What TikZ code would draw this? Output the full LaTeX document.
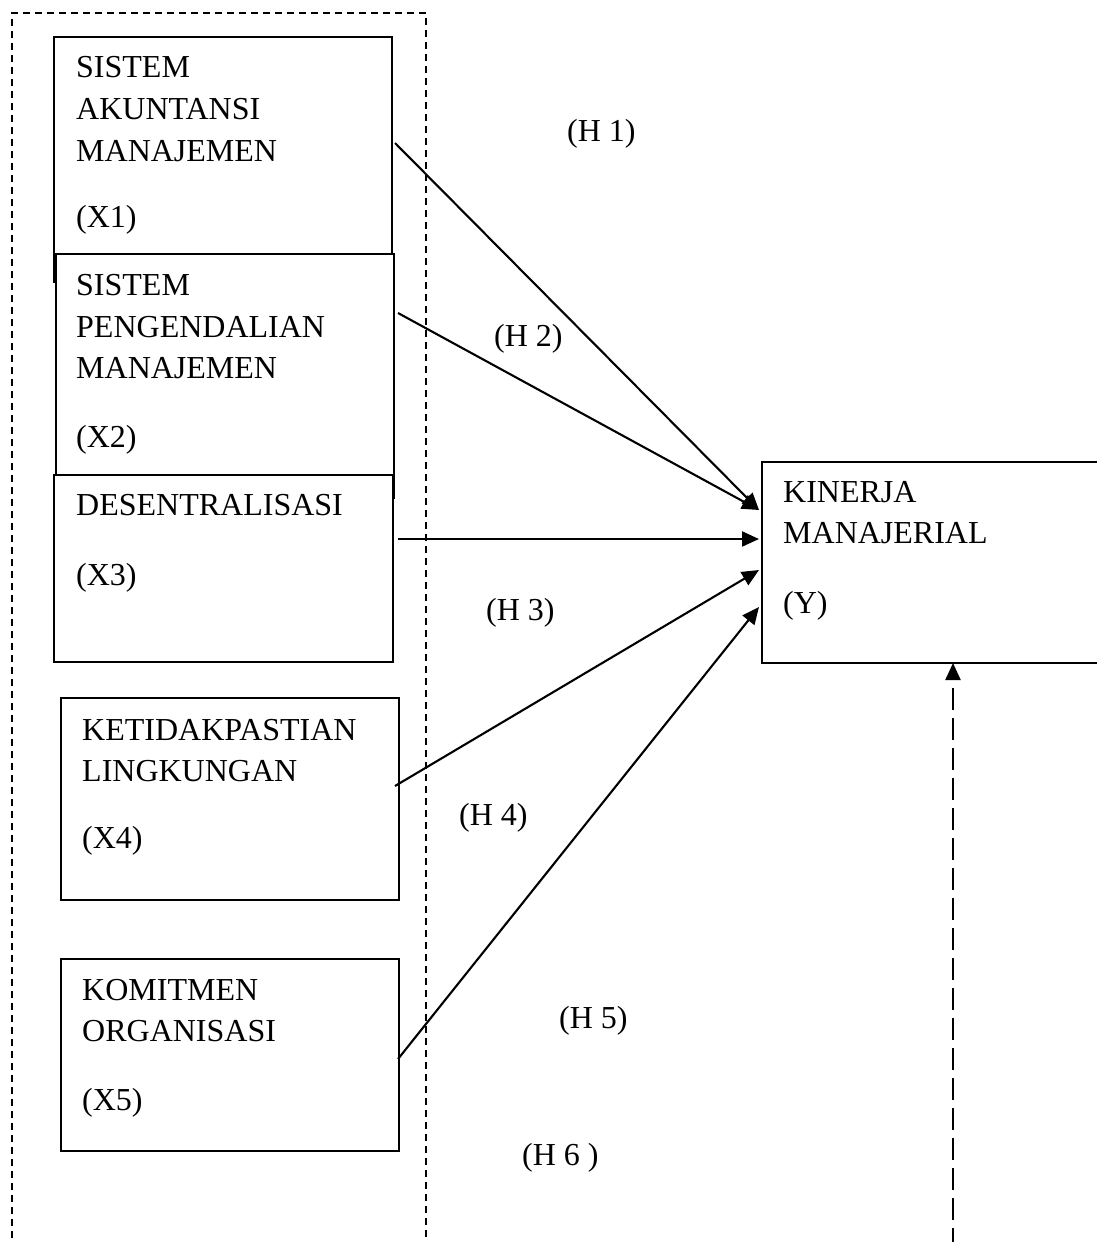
\documentclass[tikz,border=0pt]{standalone}
\usepackage{fontspec}
\setmainfont{Liberation Serif}
\usetikzlibrary{arrows.meta}
\begin{document}
\begin{tikzpicture}[x=1pt,y=-1pt,
  box/.style={draw,line width=1.9pt,fill=white,inner sep=0pt,outer sep=0pt,anchor=north west},
  txt/.style={inner sep=0pt,anchor=base west,font=\fontsize{32}{40}\selectfont},
  conn/.style={line width=2.1pt,-{Triangle[length=17pt,width=15pt]}},
  group/.style={line width=1.2pt,dash pattern=on 7pt off 5pt}]
\clip (0,0) rectangle (1097,1242);
\fill[white] (0,0) rectangle (1097,1242);
% dashed group frame
\draw[group] (12,1250) -- (12,13) -- (426,13) -- (426,1250);
% boxes
\node[box,minimum width=338pt,minimum height=245pt] (x1) at (54,37) {};
\node[box,minimum width=338pt,minimum height=244pt] (x2) at (56,254) {};
\node[box,minimum width=339pt,minimum height=187pt] (x3) at (54,475) {};
\node[box,minimum width=338pt,minimum height=202pt] (x4) at (61,698) {};
\node[box,minimum width=338pt,minimum height=192pt] (x5) at (61,959) {};
\node[box,minimum width=350pt,minimum height=201pt] (y) at (762,462) {};
% box texts
\node[txt] (t1a) at (76,77) {SISTEM};
\node[txt] (t1b) at (76,119) {AKUNTANSI};
\node[txt] (t1c) at (76,161) {MANAJEMEN};
\node[txt] (t1d) at (76,227) {(X1)};
\node[txt] (t2a) at (76,295) {SISTEM};
\node[txt] (t2b) at (76,337) {PENGENDALIAN};
\node[txt] (t2c) at (76,378) {MANAJEMEN};
\node[txt] (t2d) at (76,447) {(X2)};
\node[txt] (t3a) at (76,515) {DESENTRALISASI};
\node[txt] (t3b) at (76,585) {(X3)};
\node[txt] (t4a) at (82,740) {KETIDAKPASTIAN};
\node[txt] (t4b) at (82,781) {LINGKUNGAN};
\node[txt] (t4c) at (82,848) {(X4)};
\node[txt] (t5a) at (82,1000) {KOMITMEN};
\node[txt] (t5b) at (82,1041) {ORGANISASI};
\node[txt] (t5c) at (82,1110) {(X5)};
\node[txt] (tya) at (783,502) {KINERJA};
\node[txt] (tyb) at (783,543) {MANAJERIAL};
\node[txt] (tyc) at (783,613) {(Y)};
% hypothesis labels
\node[txt] (h1) at (567,141) {(H 1)};
\node[txt] (h2) at (494,346) {(H 2)};
\node[txt] (h3) at (486,620) {(H 3)};
\node[txt] (h4) at (459,825) {(H 4)};
\node[txt] (h5) at (559,1028) {(H 5)};
\node[txt] (h6) at (522,1165) {(H 6 )};
% connector end points
\coordinate (s1) at (395,143);
\coordinate (s2) at (398,313);
\coordinate (s3) at (398,539);
\coordinate (s4) at (395,786);
\coordinate (s5) at (398,1059);
\coordinate (e1) at (759,510);
\coordinate (e2) at (759,510);
\coordinate (e3) at (759,539);
\coordinate (e4) at (759,570);
\coordinate (e5) at (759,607);
\coordinate (sb) at (953,1250);
\draw[conn] (s1) -- (e1);
\draw[conn] (s2) -- (e2);
\draw[conn] (s3) -- (e3);
\draw[conn] (s4) -- (e4);
\draw[conn] (s5) -- (e5);
\draw[line width=2.2pt,dash pattern=on 22pt off 8pt,-{Triangle[length=17pt,width=15pt]}] (sb) -- (y.south -| sb);
\end{tikzpicture}
\end{document}
